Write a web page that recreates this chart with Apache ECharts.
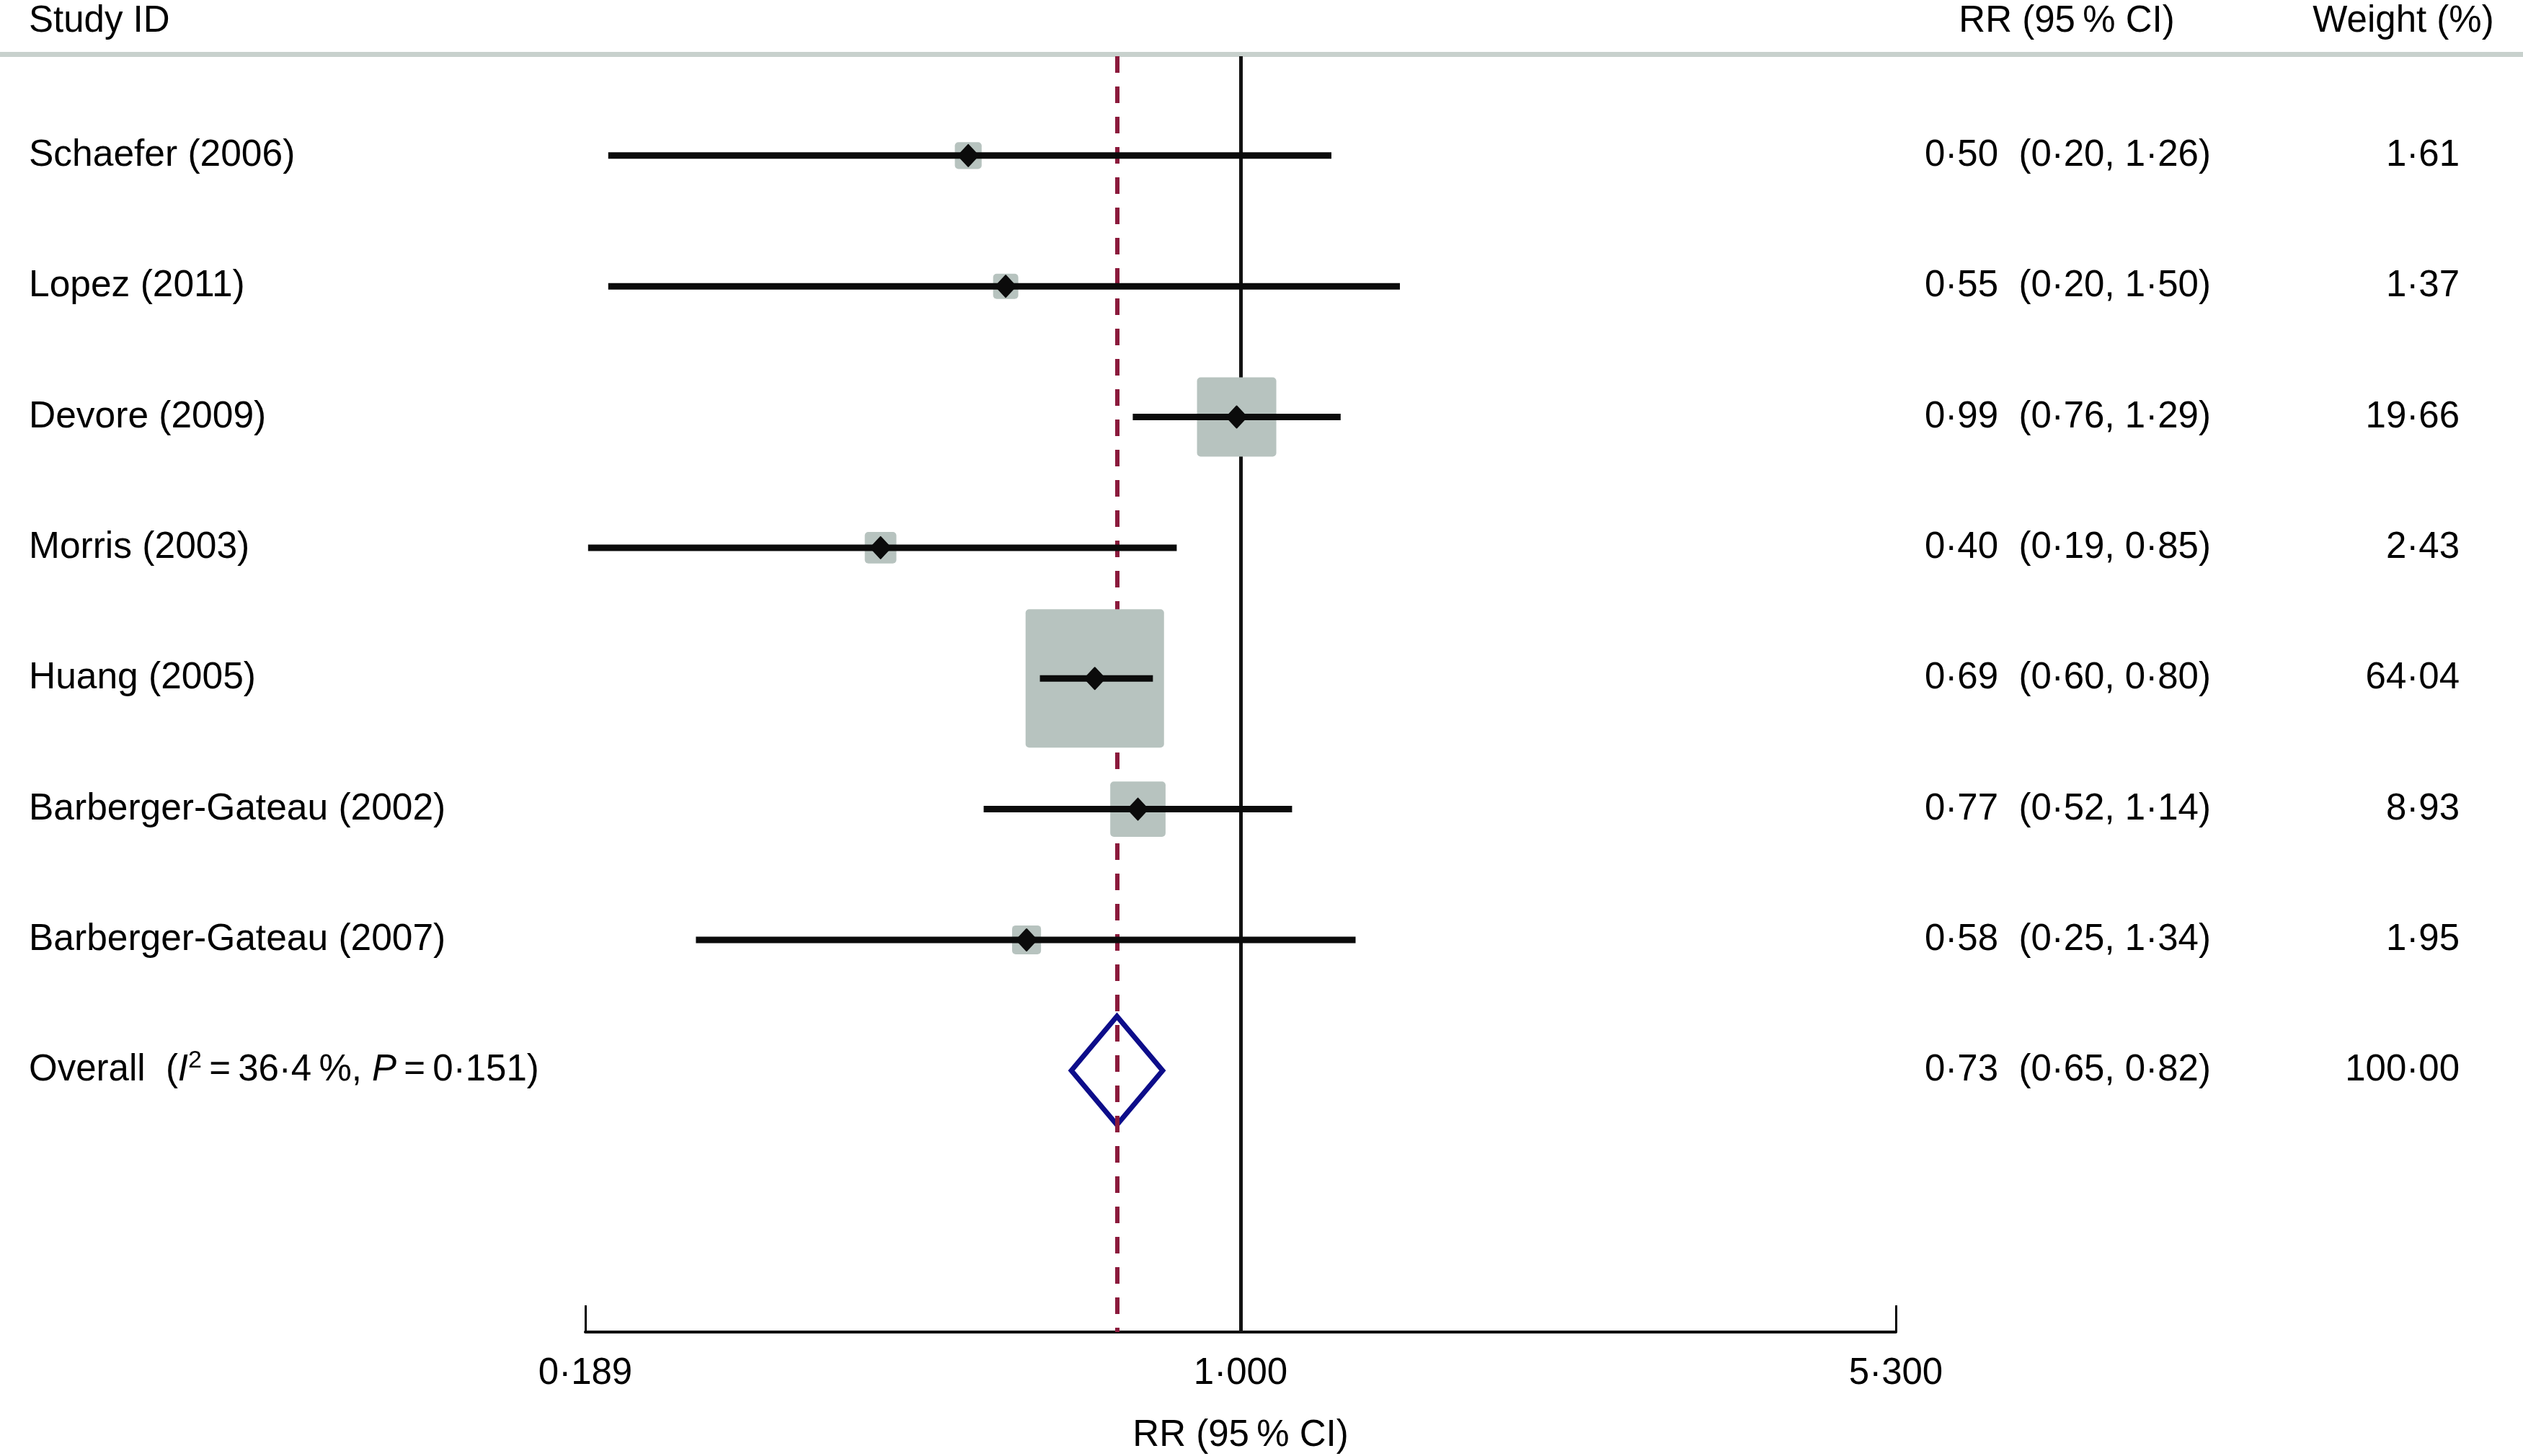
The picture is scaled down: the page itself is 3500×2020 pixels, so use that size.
<!DOCTYPE html>
<html>
<head>
<meta charset="utf-8">
<script src="https://cdn.jsdelivr.net/npm/echarts@6/dist/echarts.min.js"></script>
<style>html,body{margin:0;padding:0;background:#fff}#chart{width:3500px;height:2020px}</style>
</head>
<body>
<div id="chart"></div>
<script>
// ---- data ----
var studies = ['Schaefer (2006)', 'Lopez (2011)', 'Devore (2009)', 'Morris (2003)', 'Huang (2005)', 'Barberger-Gateau (2002)', 'Barberger-Gateau (2007)'];
var rr      = [0.50, 0.55, 0.99, 0.40, 0.69, 0.77, 0.58];
var ciLow   = [0.20, 0.20, 0.76, 0.19, 0.60, 0.52, 0.25];
var ciHigh  = [1.26, 1.50, 1.29, 0.85, 0.80, 1.14, 1.34];
var weights = [1.61, 1.37, 19.66, 2.43, 64.04, 8.93, 1.95];
var overallRR = 0.73, overallLow = 0.65, overallHigh = 0.82, overallWeight = 100.00;
var overallI2 = '36·4', overallP = '0·151';
var axisMin = 1 / 5.3, axisMax = 5.3;   // tick labels 0·189, 1·000, 5·300
var headers = ['Study ID', 'RR (95\u2009% CI)', 'Weight (%)'];
var axisTitle = 'RR (95\u2009% CI)';

// ---- helpers ----
var FONT = "'Liberation Sans', Arial, Helvetica, sans-serif";
var FS = 51;
var FS_NAME = 51.5;
function dot(s) { return String(s).replace('.', '\u00b7'); }
function f2(v) { return dot(v.toFixed(2)); }
var nRows = studies.length + 1;
var rowIdx = [];
for (var i = 0; i < nRows; i++) rowIdx.push(i);
var rrText = [], wText = [];
for (var i = 0; i < studies.length; i++) {
  rrText.push(f2(rr[i]) + '  (' + f2(ciLow[i]) + ', ' + f2(ciHigh[i]) + ')');
  wText.push(f2(weights[i]));
}
rrText.push(f2(overallRR) + '  (' + f2(overallLow) + ', ' + f2(overallHigh) + ')');
wText.push(f2(overallWeight));

var studyData = [], ciData = [];
for (var i = 0; i < studies.length; i++) {
  studyData.push([rr[i], i, weights[i]]);
  ciData.push([ciLow[i], i, ciHigh[i]]);
}

var chart = echarts.init(document.getElementById('chart'), null, {renderer: 'canvas'});

var yCommon = {
  type: 'value', min: -0.76, max: 9.0, inverse: true,
  axisLine: {show: false}, axisTick: {show: false}, splitLine: {show: false}
};

var richStyles = {
  n: {fontSize: FS, fontFamily: FONT, color: '#000', lineHeight: 62},
  it: {fontSize: FS, fontFamily: FONT, fontStyle: 'italic', color: '#000', lineHeight: 62},
  sup: {fontSize: 34, fontFamily: FONT, color: '#000', verticalAlign: 'top', lineHeight: 34}
};

var option = {
  animation: false,
  backgroundColor: '#fff',
  grid: {left: 812, right: 870, top: 78, bottom: 172, containLabel: false, outerBoundsMode: 'none'},
  xAxis: {
    type: 'log', logBase: 5.3, min: axisMin, max: axisMax,
    splitLine: {show: false},
    axisLine: {show: true, onZero: false, lineStyle: {color: '#000', width: 4}},
    axisTick: {show: true, inside: true, length: 37, lineStyle: {color: '#000', width: 3}},
    axisLabel: {
      fontSize: FS, fontFamily: FONT, color: '#000', margin: 32,
      formatter: function (v) { return dot(Number(v).toFixed(3)); }
    },
    name: axisTitle, nameLocation: 'middle', nameGap: 118,
    nameTextStyle: {fontSize: FS, fontFamily: FONT, color: '#000'}
  },
  yAxis: [
    Object.assign({}, yCommon, {
      position: 'left',
      axisLabel: {
        customValues: rowIdx, align: 'left', margin: 772,
        fontSize: FS_NAME, fontFamily: FONT, color: '#000', rich: richStyles,
        formatter: function (v) {
          var k = Math.round(v);
          if (k < studies.length) return studies[k];
          return '{n|Overall  (}{it|I}{sup|2}{n|\u2009=\u2009' + overallI2 + '\u2009%, }{it|P}{n|\u2009=\u2009' + overallP + ')}';
        }
      }
    }),
    Object.assign({}, yCommon, {
      position: 'right',
      axisLabel: {
        customValues: rowIdx, align: 'left', margin: 40,
        fontSize: FS, fontFamily: FONT, color: '#000',
        formatter: function (v) { return rrText[Math.round(v)]; }
      }
    }),
    Object.assign({}, yCommon, {
      position: 'right',
      axisLabel: {
        customValues: rowIdx, align: 'right', margin: 782,
        fontSize: FS, fontFamily: FONT, color: '#000',
        formatter: function (v) { return wText[Math.round(v)]; }
      }
    })
  ],
  graphic: [
    {type: 'line', shape: {x1: 0, y1: 75.5, x2: 3500, y2: 75.5}, style: {stroke: '#c8d1cd', lineWidth: 7}, z: 1},
    {type: 'text', x: 40, y: 30, style: {text: headers[0], fontSize: FS, fontFamily: FONT, fill: '#000', align: 'left', verticalAlign: 'middle'}},
    {type: 'text', x: 2867, y: 30, style: {text: headers[1], fontSize: FS, fontFamily: FONT, fill: '#000', align: 'center', verticalAlign: 'middle'}},
    {type: 'text', x: 3334, y: 30, style: {text: headers[2], fontSize: FS, fontFamily: FONT, fill: '#000', align: 'center', verticalAlign: 'middle'}}
  ],
  series: [
    {
      name: 'overall', type: 'custom', z: 1,
      data: [[overallLow, studies.length, overallHigh, overallRR]],
      encode: {x: [0, 2, 3], y: 1},
      renderItem: function (params, api) {
        var y = api.value(1);
        var pL = api.coord([api.value(0), y]);
        var pR = api.coord([api.value(2), y]);
        var pT = api.coord([api.value(3), y - 0.415]);
        var pB = api.coord([api.value(3), y + 0.415]);
        return {type: 'polygon', shape: {points: [pL, pT, pR, pB]},
          style: {fill: 'none', stroke: '#0d0d8a', lineWidth: 7, lineJoin: 'miter'}};
      }
    },
    {
      name: 'refs', type: 'line', data: [], z: 2,
      markLine: {
        z: 2, silent: true, symbol: ['none', 'none'], label: {show: false},
        data: [
          {xAxis: 1, lineStyle: {color: '#111', width: 5, type: 'solid'}},
          {xAxis: overallRR, lineStyle: {color: '#8b1a3c', width: 6, type: [23, 19]}}
        ]
      }
    },
    {
      name: 'boxes', type: 'custom', z: 3,
      data: studyData, encode: {x: 0, y: 1},
      renderItem: function (params, api) {
        var c = api.coord([api.value(0), api.value(1)]);
        var s = 23 * Math.sqrt(api.value(2)) + 8;
        return {type: 'rect', shape: {x: c[0] - s / 2, y: c[1] - s / 2, width: s, height: s, r: 5},
          style: {fill: '#b7c3bf'}};
      }
    },
    {
      name: 'ci', type: 'custom', z: 4,
      data: ciData, encode: {x: [0, 2], y: 1},
      renderItem: function (params, api) {
        var a = api.coord([api.value(0), api.value(1)]);
        var b = api.coord([api.value(2), api.value(1)]);
        return {type: 'line', shape: {x1: a[0], y1: a[1], x2: b[0], y2: b[1]},
          style: {stroke: '#0b0b0b', lineWidth: 9, lineCap: 'butt'}};
      }
    },
    {
      name: 'points', type: 'custom', z: 5,
      data: studyData, encode: {x: 0, y: 1},
      renderItem: function (params, api) {
        var c = api.coord([api.value(0), api.value(1)]);
        var w = 14, h = 15;
        return {type: 'polygon', shape: {points: [[c[0] - w, c[1]], [c[0], c[1] - h], [c[0] + w, c[1]], [c[0], c[1] + h]]},
          style: {fill: '#0b0b0b', stroke: '#0b0b0b', lineWidth: 2, lineJoin: 'round'}};
      }
    }
  ]
};
chart.setOption(option);
</script>
</body>
</html>
